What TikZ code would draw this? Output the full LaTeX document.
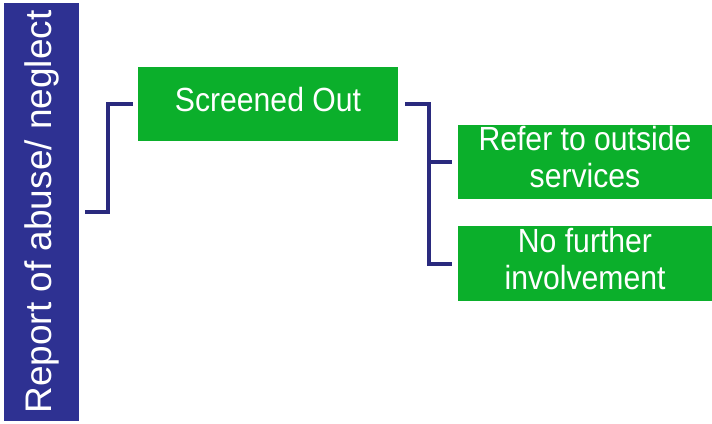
\documentclass[tikz,border=0pt]{standalone}
\usepackage{fontspec}
\usepackage{graphicx}
\setmainfont{Liberation Sans}
\definecolor{barblue}{HTML}{2E3192}
\definecolor{linenavy}{HTML}{2A2A7E}
\definecolor{boxgreen}{HTML}{0BAF2B}
\newcommand{\sqz}[1]{\raisebox{2pt}{\scalebox{0.9}[1]{\begin{tabular}{@{}c@{}}#1\end{tabular}}}}
\begin{document}
\begin{tikzpicture}[x=1pt,y=-1pt,
  gbox/.style={fill=boxgreen, text=white, inner sep=0pt, font=\fontsize{33.5}{37}\selectfont},
  conn/.style={draw=linenavy, line width=4pt}]
\useasboundingbox (0,0) rectangle (712,423);
\node[fill=barblue, text=white, rotate=90, minimum width=418pt, minimum height=75pt, inner sep=0pt,
  font=\fontsize{37}{40}\selectfont] (bar) at (41.5,212) {Report of abuse/ neglect};
\node[gbox, minimum width=260pt, minimum height=74pt] (so) at (268,104) {\sqz{Screened Out}};
\node[gbox, minimum width=254pt, minimum height=74pt] (ref) at (585,162) {\sqz{Refer to outside\\services}};
\node[gbox, minimum width=254pt, minimum height=75pt] (nfi) at (585,263.5) {\sqz{No further\\involvement}};
\draw[conn] ([xshift=6pt]bar.south) -- ++(23,0) |- ([xshift=-5pt]so.west);
\draw[conn] ([xshift=7pt]so.east) -- ++(24,0) coordinate (j) |- ([xshift=-6pt]ref.west);
\draw[conn] (j) |- ([xshift=-6pt]nfi.west);
\end{tikzpicture}
\end{document}
